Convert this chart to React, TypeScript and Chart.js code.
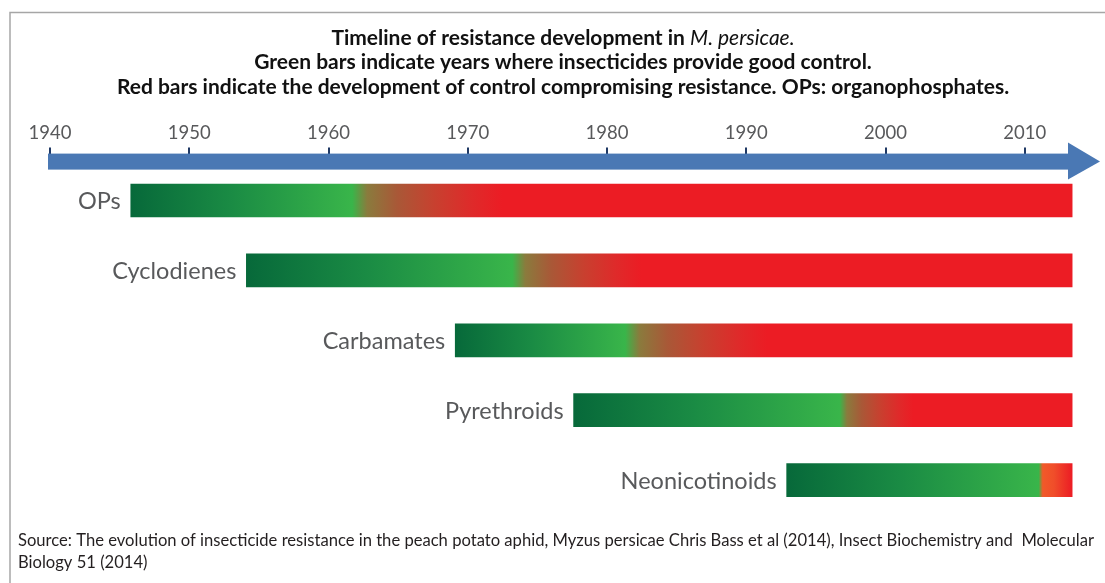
import { useEffect, useRef } from 'react';
import { Chart, registerables } from 'chart.js';

Chart.register(...registerables);

// ---- data ----
const categories = ['OPs', 'Cyclodienes', 'Carbamates', 'Pyrethroids', 'Neonicotinoids'];
const introducedYear = [1945.8, 1954.1, 1969.1, 1977.6, 1992.9];
const goodControlUntil = [1961.7, 1973.2, 1981.3, 1996.7, 2011.0];
const resistanceYear = [1972.5, 1982.5, 1991.5, 2002.0, 2013.4];
const timelineEnd = [2013.4, 2013.4, 2013.4, 2013.4, 2013.4];
const axisMin = 1940;
const axisMax = 2015.4;
const arrowHeadStart = 2013.1;
const tickStep = 10;

const titleLine1Bold = 'Timeline of resistance development in ';
const titleLine1Italic = 'M. persicae.';
const titleLine2 = 'Green bars indicate years where insecticides provide good control.';
const titleLine3 = 'Red bars indicate the development of control compromising resistance. OPs: organophosphates.';
const sourceLines = [
  'Source: The evolution of insecticide resistance in the peach potato aphid, Myzus persicae Chris Bass et al (2014), Insect Biochemistry and  Molecular',
  'Biology 51 (2014)',
];

const FONT = 'Lato, "Open Sans", "DejaVu Sans", sans-serif';

export default function App() {
  const canvasRef = useRef<HTMLCanvasElement | null>(null);

  useEffect(() => {
    const canvas = canvasRef.current;
    if (!canvas) return;

    const framePlugin = {
      id: 'frameAndText',
      beforeDraw(chart: any) {
        const ctx = chart.ctx;
        ctx.save();
        ctx.fillStyle = '#ffffff';
        ctx.fillRect(0, 0, chart.width, chart.height);
        ctx.strokeStyle = '#a6a6a6';
        ctx.lineWidth = 1.5;
        ctx.beginPath();
        ctx.moveTo(10, chart.height);
        ctx.lineTo(10, 12.5);
        ctx.lineTo(chart.width, 12.5);
        ctx.stroke();
        ctx.restore();
      },
      afterDraw(chart: any) {
        const ctx = chart.ctx;
        ctx.save();
        const cx = 563;
        ctx.fillStyle = '#111111';
        ctx.textBaseline = 'middle';
        const boldFont = `bold 21px ${FONT}`;
        const italFont = `italic 21px ${FONT}`;
        ctx.font = boldFont;
        const w1 = ctx.measureText(titleLine1Bold).width;
        ctx.font = italFont;
        const w2 = ctx.measureText(titleLine1Italic).width;
        const sx = cx - (w1 + w2) / 2;
        ctx.textAlign = 'left';
        ctx.font = boldFont;
        ctx.fillText(titleLine1Bold, sx, 38);
        ctx.font = italFont;
        ctx.fillText(titleLine1Italic, sx + w1, 38);
        ctx.textAlign = 'center';
        ctx.font = boldFont;
        ctx.fillText(titleLine2, cx, 62);
        ctx.fillText(titleLine3, cx, 87);
        ctx.textAlign = 'left';
        ctx.font = `16.6px ${FONT}`;
        ctx.fillStyle = '#231f20';
        ctx.fillText(sourceLines[0], 18, 541);
        ctx.fillText(sourceLines[1], 18, 563);
        ctx.restore();
      },
      beforeDatasetsDraw(chart: any) {
        const ctx = chart.ctx;
        const x = chart.scales.x;
        const top = chart.chartArea.top;
        const x0 = x.getPixelForValue(axisMin) - 2;
        const xh = x.getPixelForValue(arrowHeadStart);
        const xt = x.getPixelForValue(axisMax);
        ctx.save();
        ctx.fillStyle = '#4a78b4';
        ctx.fillRect(x0, top - 12, xh - x0 + 1, 16);
        ctx.beginPath();
        ctx.moveTo(xh, top - 23);
        ctx.lineTo(xt, top - 4);
        ctx.lineTo(xh, top + 14);
        ctx.closePath();
        ctx.fill();
        ctx.restore();
      },
      afterDatasetsDraw(chart: any) {
        const ctx = chart.ctx;
        const meta = chart.getDatasetMeta(0);
        ctx.save();
        ctx.font = `23.5px ${FONT}`;
        ctx.fillStyle = '#58595b';
        ctx.textAlign = 'right';
        ctx.textBaseline = 'middle';
        meta.data.forEach((el: any, i: number) => {
          const left = Math.min(el.base, el.x);
          ctx.fillText(categories[i], left - 10, el.y + 1);
        });
        ctx.restore();
      },
    };

    const bg = (c: any) => {
      const chart = c.chart;
      if (!chart.chartArea || c.type !== 'data') return '#39b54a';
      const i = c.dataIndex;
      const x = chart.scales.x;
      const p0 = x.getPixelForValue(introducedYear[i]);
      const p1 = x.getPixelForValue(timelineEnd[i]);
      const f = (yr: number) => Math.min(1, Math.max(0, (x.getPixelForValue(yr) - p0) / (p1 - p0)));
      const g = chart.ctx.createLinearGradient(p0, 0, p1, 0);
      const gEnd = f(goodControlUntil[i]);
      const d = resistanceYear[i] - goodControlUntil[i];
      const at = (t: number) => f(goodControlUntil[i] + t * d);
      g.addColorStop(0, '#07693a');
      g.addColorStop(gEnd * 0.45, '#1a8b44');
      g.addColorStop(gEnd, '#39b54a');
      if (i === 4) {
        g.addColorStop(at(0.12), '#f15a29');
        g.addColorStop(at(0.45), '#f04e2a');
      } else {
        g.addColorStop(at(0.1), '#8a7b3d');
        g.addColorStop(at(0.3), '#a95837');
        g.addColorStop(at(0.55), '#c8402f');
        g.addColorStop(at(0.8), '#df2a2a');
      }
      g.addColorStop(f(resistanceYear[i]), '#ec1c24');
      g.addColorStop(1, '#ec1c24');
      return g;
    };

    const chart = new Chart(canvas, {
      type: 'bar',
      data: {
        labels: categories,
        datasets: [
          {
            data: introducedYear.map((s, i) => [s, timelineEnd[i]]) as any,
            backgroundColor: bg as any,
            borderWidth: 0,
            borderSkipped: false,
            barThickness: 33,
          },
        ],
      },
      options: {
        indexAxis: 'y',
        responsive: false,
        animation: false,
        events: [],
        layout: { padding: { left: 50, right: 5, top: 119.4, bottom: 68 } },
        plugins: { legend: { display: false }, tooltip: { enabled: false }, title: { display: false } },
        scales: {
          x: {
            type: 'linear',
            position: 'top',
            min: axisMin,
            max: axisMax,
            border: { display: false },
            grid: {
              display: true,
              drawOnChartArea: false,
              drawTicks: true,
              tickLength: 18,
              color: '#1f3864',
              lineWidth: 2,
            },
            ticks: {
              stepSize: tickStep,
              includeBounds: false,
              padding: 3,
              color: '#58595b',
              font: { family: FONT, size: 18.5 },
              callback: (v: any) => String(v),
              maxRotation: 0,
            },
          },
          y: { display: false, offset: true, grid: { display: false } },
        },
      },
      plugins: [framePlugin],
    });

    return () => chart.destroy();
  }, []);

  return (
    <div style={{ position: 'absolute', left: 0, top: 0, width: 1105, height: 583, background: '#fff' }}>
      <canvas ref={canvasRef} width={1105} height={583} style={{ width: 1105, height: 583, display: 'block' }} />
    </div>
  );
}
